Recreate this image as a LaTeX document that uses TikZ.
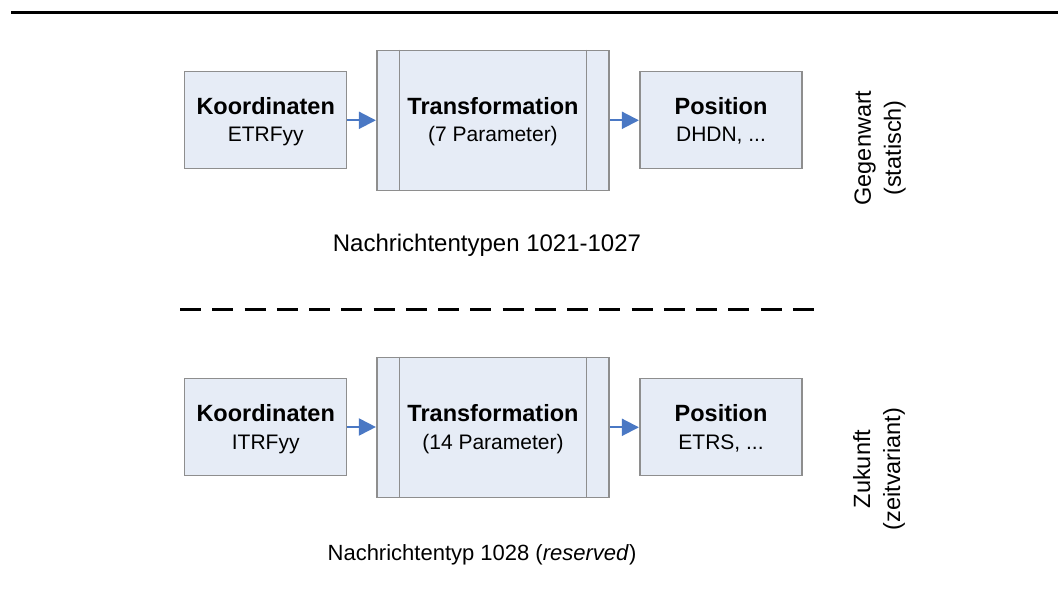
\documentclass[tikz,border=0pt]{standalone}
\usepackage{fontspec}
\setmainfont{Liberation Sans}
\usetikzlibrary{arrows.meta}
\definecolor{boxfill}{HTML}{E6ECF6}
\definecolor{boxline}{HTML}{8E8E8E}
\definecolor{flow}{HTML}{4A78C4}
\tikzset{
  x=1pt, y=-1pt,
  stage/.style={draw=boxline, line width=1.2pt, fill=boxfill, inner sep=0pt,
    minimum width=162pt, minimum height=97pt},
  process/.style={stage, minimum width=232pt, minimum height=140pt},
  title/.style={anchor=base, inner sep=0pt, font=\fontsize{23.5}{28}\selectfont\bfseries},
  sub/.style={anchor=base, inner sep=0pt, font=\fontsize{21}{25}\selectfont},
  caption/.style={inner sep=0pt, font=\fontsize{24}{29}\selectfont},
  side/.style={inner sep=0pt, rotate=90, align=center, font=\fontsize{23.5}{30}\selectfont},
  flowarrow/.style={draw=flow, line width=2pt, -{Triangle[length=17pt,width=17pt]}, shorten >=0.5pt},
  rule/.style={line width=3pt}
}
\begin{document}
\begin{tikzpicture}
\useasboundingbox (0,0) rectangle (1058,608);

% header rule
\coordinate (ruleL) at (11,12.5);
\coordinate (ruleR) at (1058,12.5);
\draw[rule] (ruleL) -- (ruleR);

% ---- static chain (messages 1021-1027)
\node[stage]   (k1) at (265.7,120.3) {};
\node[process] (t1) at (493,120.3) {};
\node[stage]   (p1) at (721,120.3) {};
\draw[boxline, line width=1.2pt] ([xshift=23pt]t1.north west) -- ([xshift=23pt]t1.south west);
\draw[boxline, line width=1.2pt] ([xshift=-23pt]t1.north east) -- ([xshift=-23pt]t1.south east);

\node[title] (k1a) at (265.7,114) {Koordinaten};
\node[sub]   (k1b) at (265.7,141.5) {ETRFyy};
\node[title] (t1a) at (493,114) {Transformation};
\node[sub]   (t1b) at (493,141.5) {(7 Parameter)};
\node[title] (p1a) at (721,114) {Position};
\node[sub]   (p1b) at (721,141.5) {DHDN, ...};

\draw[flowarrow] (k1.east) -- (t1.west);
\draw[flowarrow] (t1.east) -- (p1.east -| p1.west);

\node[caption] (c1) at (487,245) {Nachrichtentypen 1021-1027};
\node[side] (s1) at (880,148) {Gegenwart\\(statisch)};

% separator
\coordinate (sepL) at (180,309);
\coordinate (sepR) at (814,309);
\draw[rule, dash pattern=on 21pt off 11.26pt] (sepL) -- (sepR);

% ---- time-dependent chain (message 1028)
\node[stage]   (k2) at (265.7,427) {};
\node[process] (t2) at (493,427.3) {};
\node[stage]   (p2) at (721,427.3) {};
\draw[boxline, line width=1.2pt] ([xshift=23pt]t2.north west) -- ([xshift=23pt]t2.south west);
\draw[boxline, line width=1.2pt] ([xshift=-23pt]t2.north east) -- ([xshift=-23pt]t2.south east);

\node[title] (k2a) at (265.7,421) {Koordinaten};
\node[sub]   (k2b) at (265.7,449) {ITRFyy};
\node[title] (t2a) at (493,421) {Transformation};
\node[sub]   (t2b) at (493,449) {(14 Parameter)};
\node[title] (p2a) at (721,421) {Position};
\node[sub]   (p2b) at (721,449) {ETRS, ...};

\draw[flowarrow] (k2.east) -- (k2.east -| t2.west);
\draw[flowarrow] (t2.east) -- (p2.west);

\node[caption, font=\fontsize{22}{27}\selectfont] (c2) at (482,555) {Nachrichtentyp 1028 (\textit{reserved})};
\node[side] (s2) at (879,469) {Zukunft\\(zeitvariant)};
\end{tikzpicture}
\end{document}
